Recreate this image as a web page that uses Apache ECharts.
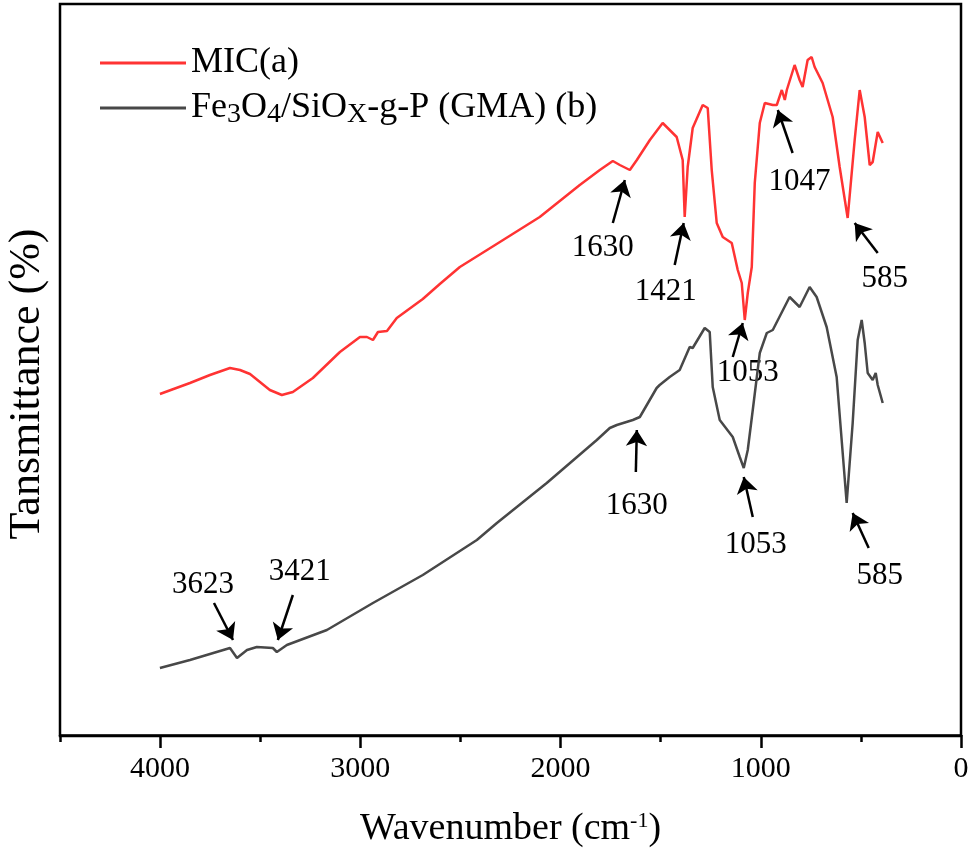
<!DOCTYPE html>
<html lang="en">
<head>
  <meta charset="UTF-8">
  <title>FTIR</title>
  <script src="https://cdn.jsdelivr.net/npm/echarts@6/dist/echarts.min.js"></script>
  <style>
    html, body { margin: 0; padding: 0; background: #fff; }
    #chart { width: 972px; height: 853px; }
  </style>
</head>
<body>
  <div id="chart"></div>
<script>
  // spectrum (a) MIC
  const micWavenumber = [4001, 3851, 3751, 3651, 3601, 3551, 3452, 3392, 3337, 3237, 3102, 3002, 2967, 2937, 2912, 2867, 2818, 2688, 2603, 2503, 2303, 2104, 1904, 1804, 1739, 1704, 1654, 1619, 1554, 1490, 1440, 1420, 1390, 1380, 1365, 1340, 1290, 1265, 1245, 1220, 1190, 1145, 1115, 1095, 1080, 1065, 1045, 1030, 1005, 980, 940, 920, 895, 880, 870, 831, 806, 791, 766, 746, 731, 691, 641, 606, 566, 531, 506, 481, 456, 441, 416, 391];
  const micTransmittance = [34.1, 35.2, 36.0, 36.7, 36.5, 36.1, 34.5, 34.0, 34.3, 35.7, 38.3, 39.8, 39.8, 39.5, 40.3, 40.4, 41.7, 43.6, 45.1, 46.8, 49.3, 51.8, 55.0, 56.5, 57.4, 57.0, 56.5, 57.5, 59.5, 61.2, 60.2, 59.8, 57.5, 51.8, 56.8, 60.7, 63.0, 62.7, 56.5, 51.2, 49.8, 49.2, 46.5, 45.2, 41.5, 44.2, 46.8, 55.2, 61.2, 63.2, 63.0, 63.0, 64.5, 63.5, 64.5, 67.0, 65.5, 64.8, 67.5, 67.8, 66.8, 65.2, 61.8, 56.8, 51.7, 59.5, 64.5, 61.8, 57.0, 57.3, 60.3, 59.2];

  // spectrum (b) Fe3O4/SiOx-g-P (GMA)
  const feWavenumber = [4001, 3851, 3651, 3616, 3566, 3517, 3437, 3417, 3367, 3167, 2937, 2688, 2418, 2318, 2069, 1819, 1754, 1719, 1639, 1604, 1520, 1505, 1455, 1405, 1355, 1340, 1280, 1255, 1240, 1205, 1140, 1105, 1085, 1065, 1040, 1005, 970, 940, 856, 806, 756, 721, 671, 621, 571, 541, 516, 496, 481, 466, 441, 426, 416, 391];
  const feTransmittance = [6.7, 7.5, 8.7, 7.7, 8.5, 8.8, 8.7, 8.3, 9.0, 10.5, 13.2, 16.0, 19.5, 21.2, 25.2, 29.5, 30.7, 31.0, 31.5, 31.8, 34.7, 35.0, 35.8, 36.5, 38.8, 38.7, 40.7, 40.3, 34.8, 31.5, 29.8, 27.8, 26.7, 28.5, 32.5, 38.2, 40.2, 40.5, 43.8, 42.8, 44.8, 43.8, 40.8, 35.8, 23.2, 31.2, 39.5, 41.5, 39.2, 36.2, 35.5, 36.2, 35.0, 33.2];

  // peak annotations
  const peakText = ['1630', '1421', '1053', '1047', '585', '1630', '1053', '585', '3623', '3421'];
  const peakLabelAt = [[1789, 48.7], [1475, 44.3], [1065, 36.2], [806, 55.3], [381, 45.6], [1619, 22.9], [1025, 19.0], [406, 15.9], [3786, 15.0], [3302, 16.3]];
  const arrowFrom = [[1739, 51.2], [1430, 47.0], [1140, 37.8], [841, 58.2], [416, 48.2], [1624, 26.3], [1040, 21.8], [461, 18.7], [3731, 13.2], [3337, 14.0]];
  const arrowTo = [[1679, 55.5], [1385, 51.2], [1090, 41.2], [915, 62.5], [531, 51.2], [1619, 30.5], [1085, 25.8], [541, 22.2], [3636, 9.5], [3412, 9.5]];

  const majorTicks = [0, 1000, 2000, 3000, 4000];

  const serif = 'Liberation Serif, Times New Roman, serif';
  const nameA = 'MIC(a)';
  const nameB = 'Fe3O4/SiOx-g-P (GMA) (b)';

  const zip = (xs, ys) => xs.map((x, i) => [x, ys[i]]);

  const gridBox = { left: 60, right: 11, top: 4, bottom: 117 };
  const hiddenY = {
    type: 'value', min: -0.1, max: 73.1,
    axisLine: { show: false }, axisTick: { show: false }, axisLabel: { show: false }, splitLine: { show: false },
  };

  const chart = echarts.init(document.getElementById('chart'));
  chart.setOption({
    animation: false,
    backgroundColor: '#fff',
    grid: [
      { ...gridBox, show: true, borderColor: '#000', borderWidth: 2.5 },
      { ...gridBox, show: false },
    ],
    legend: {
      data: [nameA, nameB],
      orient: 'vertical',
      left: 95,
      top: 38,
      icon: 'rect',
      itemWidth: 86,
      itemHeight: 3,
      itemGap: 5,
      textStyle: {
        fontFamily: serif,
        fontSize: 36,
        lineHeight: 40,
        color: '#000',
        rich: {
          sub: { fontFamily: serif, fontSize: 28, padding: [14, 0, 0, 0] },
        },
      },
      formatter: (name) => (name === nameA ? name : 'Fe{sub|3}O{sub|4}/SiO{sub|X}-g-P (GMA) (b)'),
    },
    xAxis: [
      {
        gridIndex: 0,
        type: 'value',
        min: 0,
        max: 4500,
        inverse: true,
        axisLine: { show: true, lineStyle: { color: '#000', width: 2.5 } },
        axisTick: { show: true, customValues: majorTicks, length: 13, lineStyle: { color: '#000', width: 2.5 } },
        axisLabel: {
          customValues: majorTicks,
          formatter: (v) => String(v),
          fontFamily: serif, fontSize: 30, color: '#000', margin: 18,
        },
        splitLine: { show: false },
        name: 'Wavenumber (cm{sup|-1})',
        nameLocation: 'middle',
        nameGap: 74,
        nameTextStyle: {
          fontFamily: serif,
          fontSize: 38,
          color: '#000',
          rich: {
            sup: { fontFamily: serif, fontSize: 22, padding: [0, 0, 16, 0] },
          },
        },
      },
      {
        // minor ticks every 500
        gridIndex: 1,
        type: 'value',
        min: 0,
        max: 4500,
        interval: 500,
        inverse: true,
        axisLine: { show: false },
        axisTick: { show: true, length: 7, lineStyle: { color: '#000', width: 2.5 } },
        axisLabel: { show: false },
        splitLine: { show: false },
      },
    ],
    yAxis: [
      { gridIndex: 0, ...hiddenY },
      { gridIndex: 1, ...hiddenY },
    ],
    graphic: [
      {
        type: 'text',
        x: 27,
        y: 384,
        rotation: Math.PI / 2,
        style: {
          text: 'Tansmittance (%)',
          fontFamily: serif,
          fontSize: 44,
          fill: '#000',
          align: 'center',
          verticalAlign: 'middle',
        },
      },
    ],
    series: [
      {
        name: nameA,
        type: 'line',
        showSymbol: false,
        color: '#ff3333',
        lineStyle: { width: 2.5 },
        data: zip(micWavenumber, micTransmittance),
      },
      {
        name: nameB,
        type: 'line',
        showSymbol: false,
        color: '#484848',
        lineStyle: { width: 2.5 },
        data: zip(feWavenumber, feTransmittance),
      },
      {
        name: 'peaks',
        type: 'scatter',
        silent: true,
        symbolSize: 0,
        itemStyle: { color: 'rgba(0,0,0,0)', opacity: 1 },
        label: {
          show: true,
          position: 'inside',
          formatter: '{b}',
          fontFamily: serif,
          fontSize: 31,
          color: '#000',
          opacity: 1,
        },
        data: peakText.map((t, i) => ({ name: t, value: peakLabelAt[i] })),
        markLine: {
          silent: true,
          animation: false,
          symbol: ['none', 'arrow'],
          symbolSize: 16,
          label: { show: false },
          lineStyle: { color: '#000', width: 2.5, type: 'solid', opacity: 1 },
          data: arrowFrom.map((p, i) => [{ coord: p }, { coord: arrowTo[i] }]),
        },
      },
    ],
  });
</script>
</body>
</html>
